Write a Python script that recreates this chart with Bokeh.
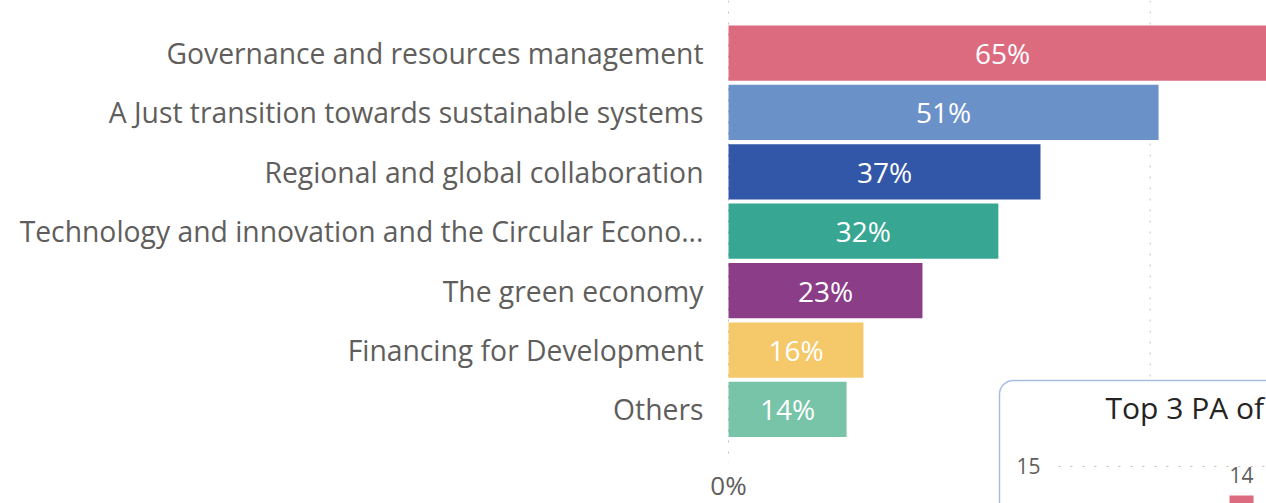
from bokeh.plotting import figure
from bokeh.models import (Range1d, FixedTicker, BoxAnnotation, Label,
                          ColumnDataSource)
from bokeh.core.properties import value
from bokeh.embed import file_html
from bokeh.resources import INLINE

# ---- data ----
categories = [
    "Governance and resources management",
    "A Just transition towards sustainable systems",
    "Regional and global collaboration",
    "Technology and innovation and the Circular Econo...",
    "The green economy",
    "Financing for Development",
    "Others",
]
shares = [65, 51, 37, 32, 23, 16, 14]
colors = ["#dd6b7f", "#6b91c9", "#3257a8", "#37a794", "#8b3d88", "#f5c869", "#77c4a8"]
x_ticks = [0, 50]
x_tick_labels = ["0%", ""]   # the 50% label is hidden behind the card

card_title = "Top 3 PA of"
mini_ticks = [15]
mini_values = [14]
mini_color = "#dd6b7f"

FONT = "Open Sans"
LABEL_GRAY = "#605e5c"
GRID_GRAY = "#c0bebc"

p = figure(width=1266, height=503, output_backend="svg", toolbar_location=None,
           x_range=Range1d(-2.966, 63.8), y_range=Range1d(7.584, -0.884),
           min_border_left=703, min_border_right=0, min_border_top=0,
           min_border_bottom=0)
p.outline_line_color = None
p.xaxis.visible = False
p.xgrid.grid_line_color = None
p.ygrid.grid_line_color = None

n = len(categories)
pos = list(range(n))

# vertical dotted gridlines (ending just below the last bar)
p.segment(x0=x_ticks, x1=x_ticks, y0=[p.y_range.end] * len(x_ticks),
          y1=[n - 1 + 0.9] * len(x_ticks), line_color=GRID_GRAY,
          line_dash="2 9", line_width=1, level="underlay")

src = ColumnDataSource(dict(
    y=pos, right=shares, color=colors,
    mid=[s / 2 for s in shares],
    label=[f"{s}%" for s in shares],
))
p.hbar(y="y", left=0, right="right", height=0.93, fill_color="color",
       line_color=None, source=src)
p.text(x="mid", y="y", text="label", source=src, text_color="white",
       text_align="center", text_baseline="middle",
       text_font=value(FONT), text_font_size="28px")

# x tick labels under the chart
vis = [i for i, t in enumerate(x_tick_labels) if t]
p.text(x=[x_ticks[i] for i in vis], y=[n - 1] * len(vis),
       text=[x_tick_labels[i] for i in vis],
       text_color=LABEL_GRAY, text_align="center", text_baseline="middle",
       text_font=value(FONT), text_font_size="26px", y_offset=76)

# y axis (categories)
p.yaxis.ticker = FixedTicker(ticks=pos)
p.yaxis.major_label_overrides = {i: c for i, c in enumerate(categories)}
p.yaxis.axis_line_color = None
p.yaxis.major_tick_line_color = None
p.yaxis.minor_tick_line_color = None
p.yaxis.major_tick_out = 0
p.yaxis.major_tick_in = 0
p.yaxis.major_label_standoff = 0
p.yaxis.major_label_text_font = FONT
p.yaxis.major_label_text_font_size = "28.3px"
p.yaxis.major_label_text_color = LABEL_GRAY

# ---- partially visible card holding a second visual ----
p.extra_x_ranges = {"mini": Range1d(-17.933, 0.8333)}
p.extra_y_ranges = {"mini": Range1d(13.724, 31.069)}

card = BoxAnnotation(left=-8.067, right=5, top=17.966, bottom=-5,
                     x_range_name="mini", y_range_name="mini",
                     fill_color="white", fill_alpha=1.0,
                     line_color="#a8bde3", line_width=1.5, line_alpha=1.0,
                     border_radius=14)
p.add_layout(card)

p.add_layout(Label(x=-4.533, y=17.05, text=card_title, x_range_name="mini",
                   y_range_name="mini", text_font=FONT, text_font_size="30px",
                   text_color="#252423", text_baseline="alphabetic"))

p.segment(x0=[-6.1] * len(mini_ticks), x1=[2] * len(mini_ticks),
          y0=mini_ticks, y1=mini_ticks, x_range_name="mini",
          y_range_name="mini", line_color=GRID_GRAY, line_dash="2 10",
          line_width=1, level="overlay")

for t in mini_ticks:
    p.add_layout(Label(x=-6.7, y=t, text=str(t), x_range_name="mini",
                       y_range_name="mini", text_font=FONT,
                       text_font_size="21px", text_color=LABEL_GRAY,
                       text_align="right", text_baseline="middle"))

for i, v in enumerate(mini_values):
    p.add_layout(BoxAnnotation(left=i - 0.4, right=i + 0.4, top=v, bottom=-5,
                               x_range_name="mini", y_range_name="mini",
                               fill_color=mini_color, fill_alpha=1.0,
                               line_color=None))
    p.add_layout(Label(x=i, y=v, text=str(v), x_range_name="mini",
                       y_range_name="mini", text_font=FONT,
                       text_font_size="21px", text_color=LABEL_GRAY,
                       text_align="center", text_baseline="bottom",
                       y_offset=12))

open("out.html", "w").write(file_html(p, INLINE))
